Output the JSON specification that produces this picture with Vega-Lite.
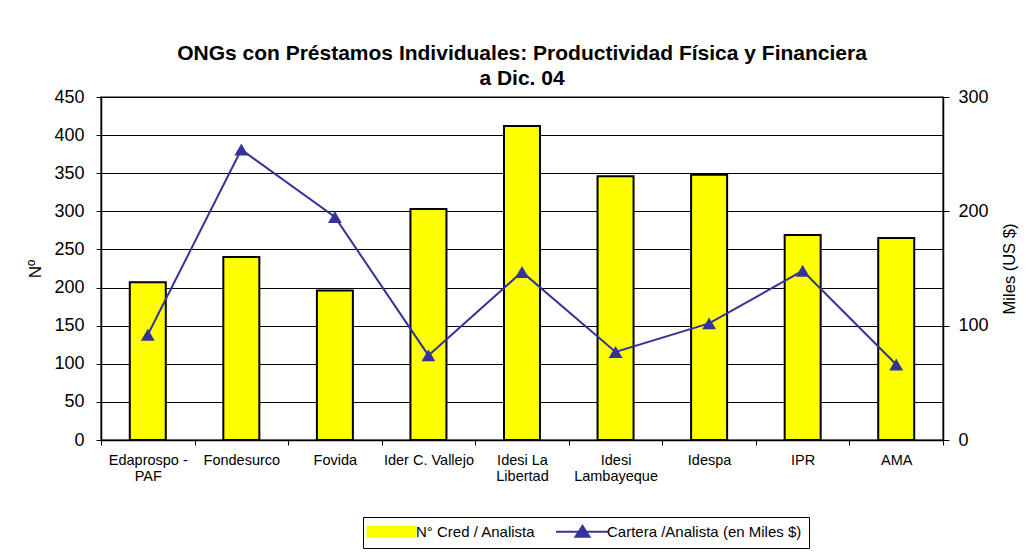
{
  "$schema": "https://vega.github.io/schema/vega-lite/v6.json",
  "width": 842,
  "height": 343,
  "autosize": {"type": "none"},
  "padding": {"left": 101, "top": 97, "right": 91, "bottom": 112},
  "background": "white",
  "config": {
    "font": "Liberation Sans",
    "view": {"stroke": "#808080", "strokeWidth": 2},
    "axis": {"labelColor": "black", "titleColor": "black", "domainColor": "black", "tickColor": "black", "labelFont": "Liberation Sans", "titleFont": "Liberation Sans", "titleFontWeight": "normal"},
    "legend": {
      "orient": "none",
      "direction": "horizontal",
      "legendX": 262,
      "legendY": 420,
      "labelFontSize": 15,
      "labelFont": "Liberation Sans",
      "labelColor": "black",
      "labelLimit": 400,
      "strokeColor": "black",
      "fillColor": "white",
      "padding": 7,
      "symbolSize": 100,
      "symbolOffset": 14,
      "symbolStrokeWidth": 2,
      "symbolOpacity": 1,
      "columnPadding": 16,
      "labelOffset": 17
    }
  },
  "title": {
    "text": ["ONGs con Préstamos Individuales: Productividad Física y Financiera", "a  Dic. 04"],
    "font": "Liberation Sans",
    "fontSize": 21,
    "fontWeight": "bold",
    "lineHeight": 25,
    "anchor": "middle",
    "offset": -1,
    "color": "black"
  },
  "data": {
    "values": [
      {"ong": "Edaprospo - PAF", "cred": 207, "cartera": 92},
      {"ong": "Fondesurco", "cred": 240, "cartera": 254},
      {"ong": "Fovida", "cred": 196, "cartera": 195},
      {"ong": "Ider C. Vallejo", "cred": 303, "cartera": 74},
      {"ong": "Idesi La Libertad", "cred": 412, "cartera": 147},
      {"ong": "Idesi Lambayeque", "cred": 346, "cartera": 77},
      {"ong": "Idespa", "cred": 348, "cartera": 102},
      {"ong": "IPR", "cred": 269, "cartera": 148},
      {"ong": "AMA", "cred": 265, "cartera": 66}
    ]
  },
  "encoding": {
    "x": {
      "field": "ong",
      "type": "nominal",
      "sort": null,
      "scale": {"paddingInner": 0, "paddingOuter": 0},
      "axis": {
        "title": null,
        "labelAngle": 0,
        "labelFontSize": 14.5,
        "labelLineHeight": 16,
        "labelPadding": 8,
        "tickBand": "extent",
        "tickSize": 5,
        "domainWidth": 1.5,
        "labelExpr": "datum.value == 'Edaprospo - PAF' ? ['Edaprospo -', 'PAF'] : datum.value == 'Idesi La Libertad' ? ['Idesi La', 'Libertad'] : datum.value == 'Idesi Lambayeque' ? ['Idesi', 'Lambayeque'] : datum.label"
      }
    }
  },
  "layer": [
    {
      "data": {"values": [{"serie": "N° Cred / Analista"}, {"serie": "Cartera /Analista (en Miles $)"}]},
      "transform": [{"filter": "false"}],
      "mark": {"type": "point", "filled": true, "size": 100, "strokeWidth": 2, "opacity": 1},
      "encoding": {
        "x": {"field": "serie", "type": "nominal"},
        "color": {
          "field": "serie",
          "type": "nominal",
          "scale": {"domain": ["N° Cred / Analista", "Cartera /Analista (en Miles $)"], "range": ["#FFFF00", "#333399"]},
          "legend": {"title": null}
        },
        "shape": {
          "field": "serie",
          "type": "nominal",
          "scale": {"domain": ["N° Cred / Analista", "Cartera /Analista (en Miles $)"], "range": ["M-4.8,-1H4.8V1H-4.8Z", "M-5.3,0H5.3M-1.4,1L0,-1.2L1.4,1Z"]},
          "legend": {"title": null}
        },
        "stroke": {
          "field": "serie",
          "type": "nominal",
          "scale": {"domain": ["N° Cred / Analista", "Cartera /Analista (en Miles $)"], "range": ["#000000", "#333399"]},
          "legend": {"title": null}
        }
      }
    },
    {
      "mark": {"type": "bar", "size": 36, "stroke": "black", "strokeWidth": 2},
      "encoding": {
        "y": {
          "field": "cred",
          "type": "quantitative",
          "scale": {"domain": [0, 450], "nice": false},
          "axis": {
            "title": "Nº",
            "titleFontSize": 17,
            "titlePadding": 9,
            "labelFontSize": 18,
            "labelPadding": 12,
            "values": [0, 50, 100, 150, 200, 250, 300, 350, 400, 450],
            "grid": true,
            "gridColor": "black",
            "gridOpacity": 1,
            "gridWidth": 1,
            "tickSize": 5,
            "domainWidth": 1.5
          }
        },
        "color": {"datum": "N° Cred / Analista", "type": "nominal", "legend": null}
      }
    },
    {
      "mark": {"type": "line", "color": "#333399", "strokeWidth": 2, "point": {"shape": "triangle-up", "size": 190, "filled": true, "color": "#333399", "opacity": 1}},
      "encoding": {
        "y": {
          "field": "cartera",
          "type": "quantitative",
          "scale": {"domain": [0, 300], "nice": false},
          "axis": {
            "orient": "right",
            "title": "Miles (US $)",
            "titleFontSize": 16.5,
            "titleAngle": 270,
            "titlePadding": 29,
            "labelFontSize": 18,
            "labelPadding": 9,
            "values": [0, 100, 200, 300],
            "grid": false,
            "tickSize": 6,
            "domainWidth": 1.5
          }
        },
        "color": {"datum": "Cartera /Analista (en Miles $)", "type": "nominal", "legend": null}
      }
    }
  ],
  "resolve": {"scale": {"y": "independent"}}
}
